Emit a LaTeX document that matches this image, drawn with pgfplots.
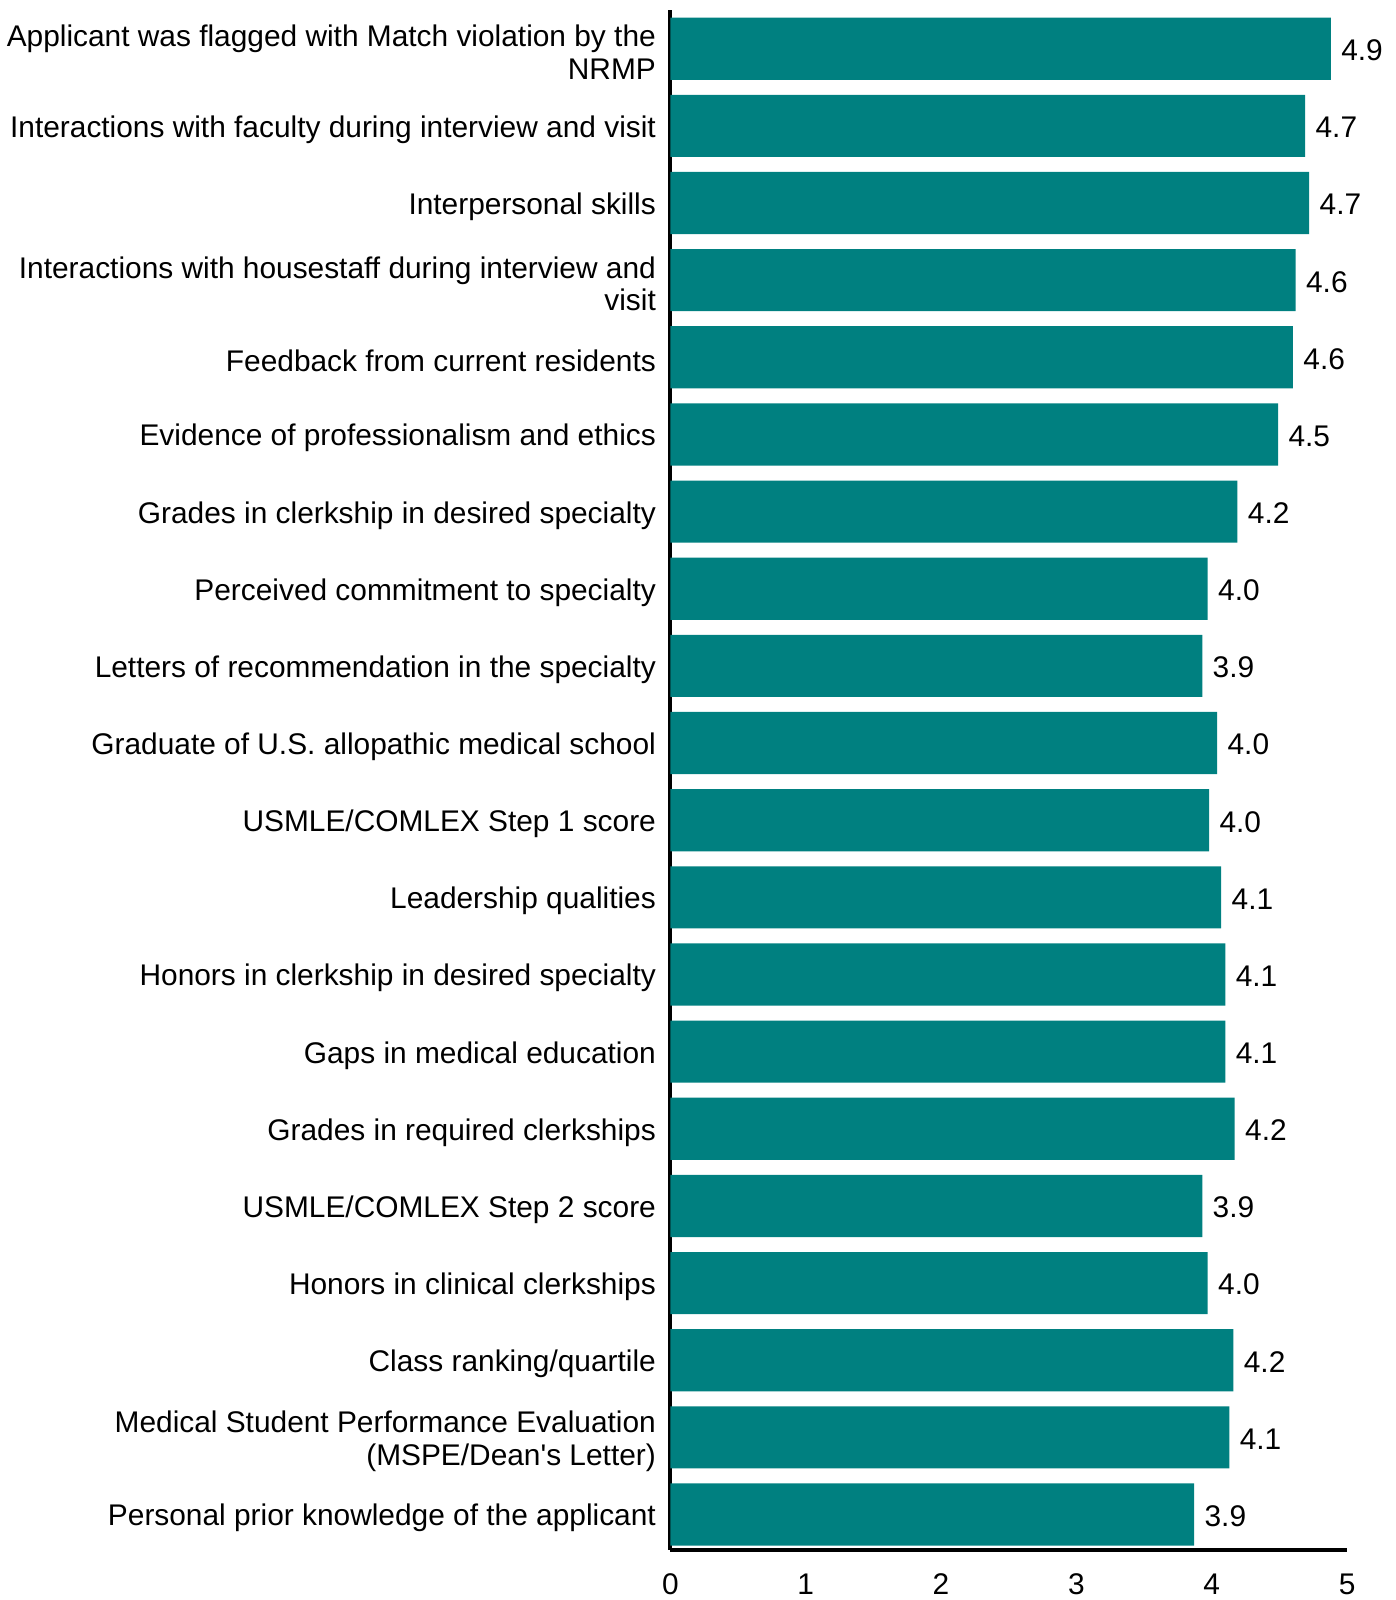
\documentclass[border=0pt]{standalone}
\usepackage{pgfplots}
\pgfplotsset{compat=1.18}
\usepackage{fontspec}
\setmainfont{Liberation Sans}
\definecolor{barteal}{RGB}{0,128,128}
\newcommand{\lbl}{\fontsize{11.2}{12.3}\selectfont}
\begin{document}
\lbl
\begin{tikzpicture}
\begin{axis}[
    scale only axis,
    width=253.8pt, height=577.5pt,
    xbar, bar width=23.3pt,
    y dir=reverse,
    xmin=0, xmax=5,
    ymin=-0.5, ymax=19.46,
    axis x line*=bottom, axis y line*=left,
    axis line style={line width=1.5pt, -},
    xtick={0,1,2,3,4,5},
    major tick length=0pt,
    ytick={0,...,19},
    yticklabel style={align=right, font=\lbl, xshift=-1.5pt, yshift=-1.4pt},
    xticklabel style={font=\lbl, yshift=-5pt},
    /pgf/number format/assume math mode=true,
    yticklabels={
        {Applicant was flagged with Match violation by the\\NRMP},
        {Interactions with faculty during interview and visit},
        {Interpersonal skills},
        {Interactions with housestaff during interview and\\visit},
        {Feedback from current residents},
        {Evidence of professionalism and ethics},
        {Grades in clerkship in desired specialty},
        {Perceived commitment to specialty},
        {Letters of recommendation in the specialty},
        {Graduate of U.S. allopathic medical school},
        {USMLE/COMLEX Step 1 score},
        {Leadership qualities},
        {Honors in clerkship in desired specialty},
        {Gaps in medical education},
        {Grades in required clerkships},
        {USMLE/COMLEX Step 2 score},
        {Honors in clinical clerkships},
        {Class ranking/quartile},
        {Medical Student Performance Evaluation\\(MSPE/Dean\textquotesingle s Letter)},
        {Personal prior knowledge of the applicant}},
    nodes near coords,
    point meta=x,
    nodes near coords style={font=\lbl, anchor=west, yshift=-0.6pt,
        /pgf/number format/.cd, fixed, fixed zerofill, precision=1, assume math mode=true},
    ]
    \addplot[fill=barteal, draw=none] coordinates {
        (4.88,0) (4.69,1) (4.72,2) (4.62,3) (4.60,4)
        (4.49,5) (4.19,6) (3.97,7) (3.93,8) (4.04,9)
        (3.98,10) (4.07,11) (4.10,12) (4.10,13) (4.17,14)
        (3.93,15) (3.97,16) (4.16,17) (4.13,18) (3.87,19)
    };
\end{axis}
\pgfresetboundingbox
\path[use as bounding box] (-251.4pt,-18.75pt) rectangle (272.1pt,581.3pt);
\end{tikzpicture}
\end{document}
